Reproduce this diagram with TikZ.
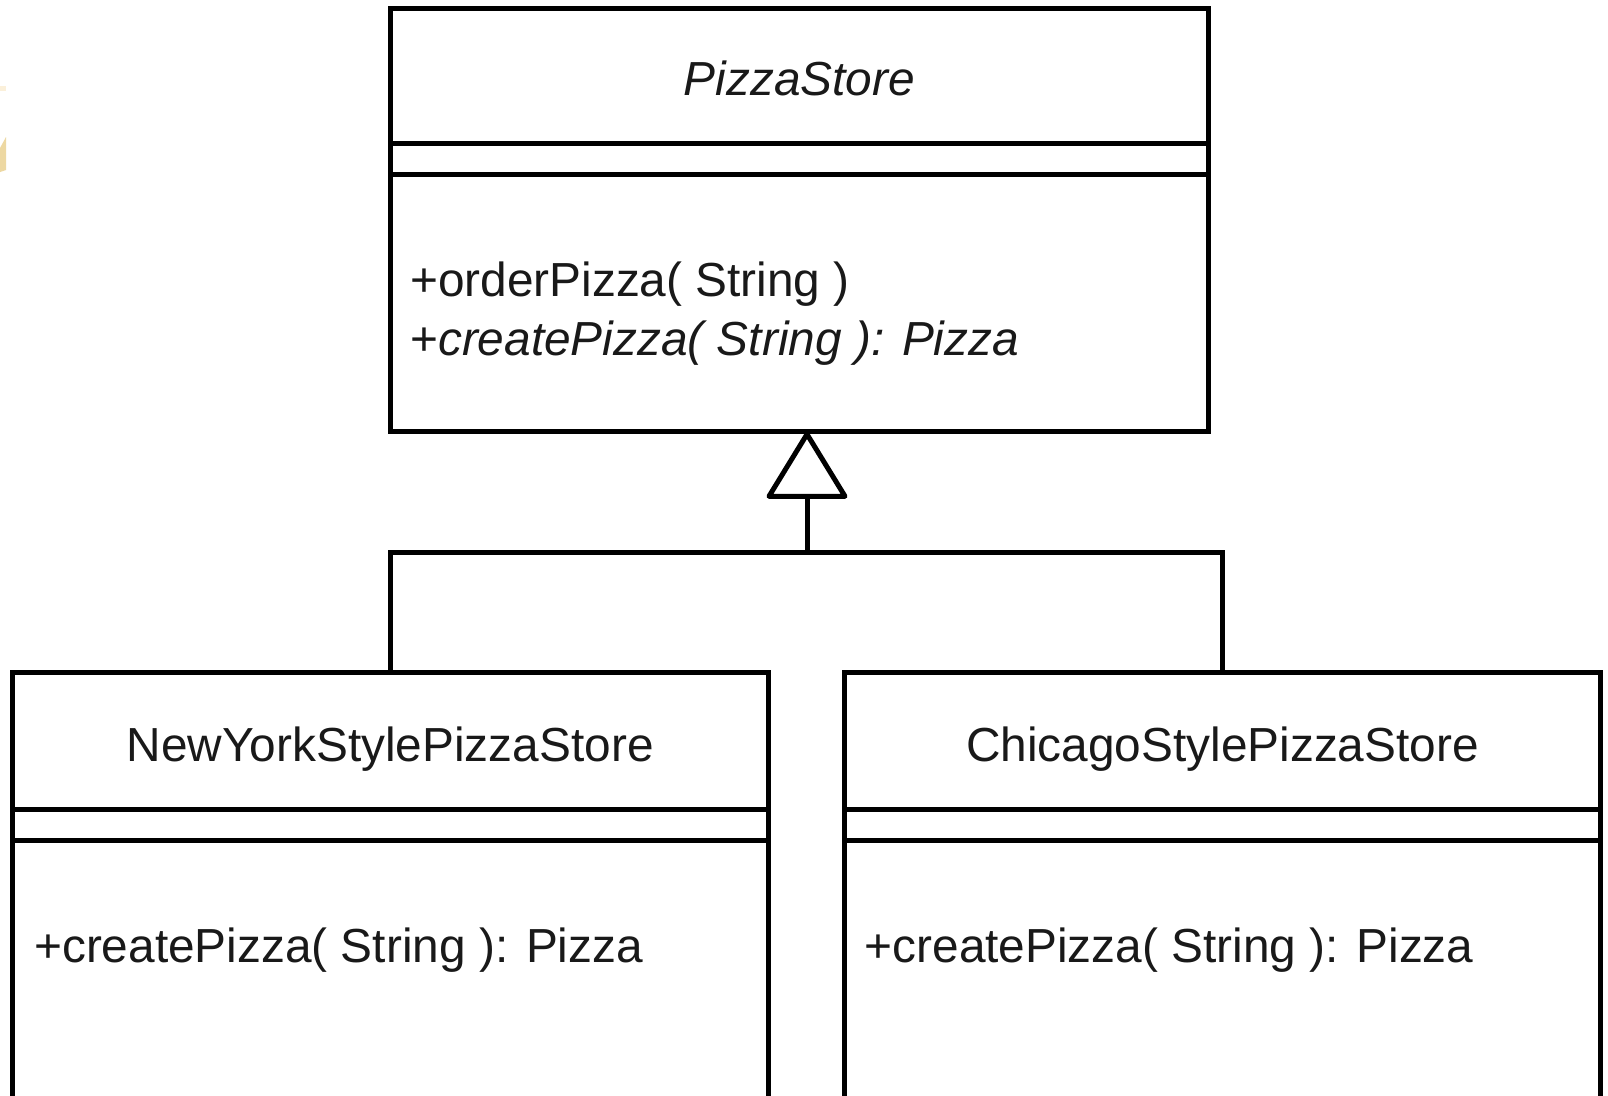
\documentclass[tikz,border=0pt]{standalone}
\usepackage{fontspec}
\setmainfont{Liberation Sans}
\definecolor{sliver}{HTML}{EDD8A2}
\definecolor{sliverlight}{HTML}{FBF0DA}
\begin{document}
\begin{tikzpicture}[x=1pt,y=-1pt,
  classbox/.style={draw=black, line width=5pt, fill=white, inner sep=0pt, rectangle},
  rule/.style={draw=black, line width=5pt},
  edge/.style={draw=black, line width=5pt, line join=miter},
  label/.style={inner sep=0pt, font=\fontsize{47.8}{58.5}\selectfont, text=black!90}]
  % page and clipping
  \fill[white] (0,0) rectangle (1608,1095);
  \useasboundingbox (0,0) rectangle (1608,1095);
  \clip (0,0) rectangle (1608,1095);

  % stray sliver at the left border
  \fill[sliverlight] (0,86) rectangle (6,91);
  \fill[sliver] (0,148) -- (6,137) -- (6,170) -- (0,172) -- cycle;

  % abstract creator
  \node[classbox, minimum width=817.3pt, minimum height=423.5pt] (ps) at (799.35,219.95) {};
  \draw[rule] (390.7,143.6) -- (1208,143.6);
  \draw[rule] (390.7,174.3) -- (1208,174.3);
  \node[label, anchor=base] (psname) at (799.35,95.5) {\itshape PizzaStore};
  \node[label, anchor=base west] (psop1) at (410,296.5) {+orderPizza( String )};
  \node[label, anchor=base west] (psop2) at (410,355) {+\textit{createPizza( String ): Pizza}};

  % concrete creators
  \node[classbox, minimum width=755.7pt, minimum height=457.3pt] (ny) at (390.15,901.35) {};
  \draw[rule] (12.3,809) -- (768,809);
  \draw[rule] (12.3,840) -- (768,840);
  \node[label, anchor=base] (nyname) at (390.15,761) {NewYorkStylePizzaStore};
  \node[label, anchor=base west] (nyop) at (34,962) {+createPizza( String ): Pizza};

  \node[classbox, minimum width=756.8pt, minimum height=457.3pt] (ch) at (1222.4,901.35) {};
  \draw[rule] (844,809) -- (1600.8,809);
  \draw[rule] (844,840) -- (1600.8,840);
  \node[label, anchor=base] (chname) at (1222.4,761) {ChicagoStylePizzaStore};
  \node[label, anchor=base west] (chop) at (864.5,962) {+createPizza( String ): Pizza};

  % generalization
  \coordinate (bus) at (807,552.7);
  \coordinate (tribase) at (807,496.3);
  \draw[edge] (ny.north) |- (bus) -| (ch.north);
  \draw[edge] (bus) -- (tribase);
  \draw[edge, fill=white, line join=round] (tribase |- ps.south) -- ([xshift=-38pt]tribase) -- ([xshift=38pt]tribase) -- cycle;
\end{tikzpicture}
\end{document}
